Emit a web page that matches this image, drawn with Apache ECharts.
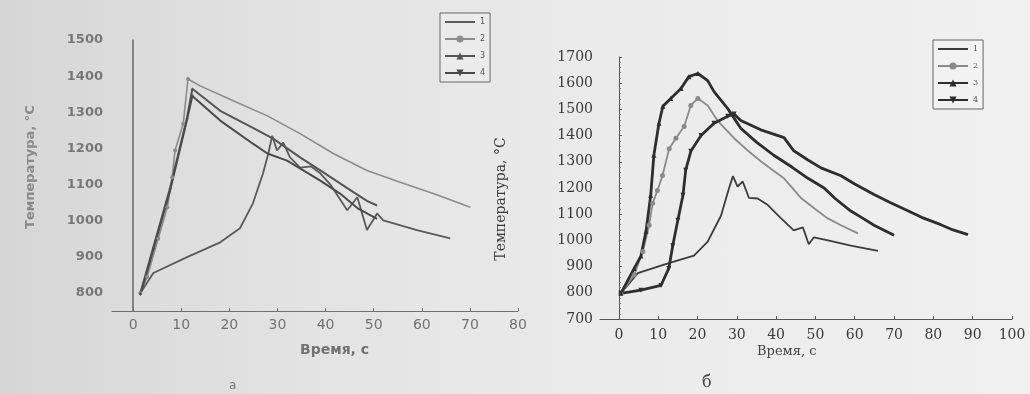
<!DOCTYPE html>
<html>
<head>
<meta charset="utf-8">
<script src="https://cdn.jsdelivr.net/npm/echarts@6/dist/echarts.min.js"></script>
<style>
html,body{margin:0;padding:0;width:1030px;height:394px;overflow:hidden;
background:linear-gradient(90deg,#d6d6d6 0%,#e3e3e3 30%,#ebebeb 60%,#f0f0f0 100%);}
#c{width:1030px;height:394px;}
</style>
</head>
<body>
<div id="c"></div>
<script>
// ---- Chart "а" (left) ----
const aNames = ['1', '2', '3', '4'];
const aXTicks = [0, 10, 20, 30, 40, 50, 60, 70, 80];
const aYTicks = [800, 900, 1000, 1100, 1200, 1300, 1400, 1500];
const aSeries1 = [[1.5,800],[4.2,855],[11.2,899],[18.1,940],[22.2,979],[24.9,1048],[27,1131],[28.1,1186],[28.9,1235],[29.9,1194],[31.2,1216],[32.6,1175],[34.7,1147],[37,1150],[38.9,1131],[41,1100],[44.5,1029],[46.6,1065],[48.6,974],[50.7,1020],[52,1001],[59,974],[65.9,951]];
const aSeries2 = [[1.5,800],[2.9,844],[5.2,950],[7.1,1037],[8.1,1120],[8.7,1194],[10.4,1268],[11.4,1392],[13.9,1373],[20.8,1332],[27.9,1290],[34.7,1241],[41.6,1186],[48.6,1139],[55.5,1106],[62.4,1075],[70.1,1037]];
const aSeries3 = [[1.5,800],[4.2,927],[7.7,1092],[11.2,1285],[12.3,1365],[18.1,1304],[24.9,1257],[29.1,1227],[34.7,1175],[38.9,1139],[44.5,1090],[48.6,1055],[50.7,1042]];
const aSeries4 = [[1.5,795],[4.2,920],[7.7,1085],[11.2,1280],[12.3,1345],[18.1,1277],[24.9,1213],[27.9,1186],[32,1166],[38.9,1111],[43,1075],[46.6,1035],[48.6,1020],[50.7,1005]];

// ---- Chart "б" (right) ----
const bNames = ['1', '2', '3', '4'];
const bXTicks = [0, 10, 20, 30, 40, 50, 60, 70, 80, 90, 100];
const bSeries1 = [[0.5,798],[4.8,875],[12.5,912],[19.1,942],[22.6,995],[26,1095],[28,1198],[29,1245],[30.2,1205],[31.5,1225],[33.1,1162],[35.3,1160],[37.9,1135],[41.2,1085],[44.5,1038],[46.8,1050],[48.3,985],[49.6,1012],[53.2,1000],[59,980],[65.9,960]];
const bSeries2 = [[0.5,798],[3.9,868],[6.1,958],[7.7,1058],[8.6,1142],[9.8,1190],[11.1,1248],[12.8,1350],[14.5,1390],[16.6,1435],[18.3,1515],[20.1,1542],[22.6,1515],[25.2,1455],[29.3,1390],[33,1340],[36.1,1302],[39,1270],[42,1237],[46.3,1162],[50.6,1112],[53,1085],[56.5,1058],[60.8,1027]];
const bSeries3 = [[0.5,798],[3.9,893],[5.6,940],[6.9,1035],[8.1,1172],[8.9,1325],[10.2,1447],[11.2,1512],[13.2,1542],[15.8,1580],[17.8,1625],[20.1,1637],[22.6,1610],[24.2,1568],[27.7,1503],[31,1428],[35,1375],[39.4,1325],[44,1280],[48.1,1237],[52.2,1200],[55,1160],[59,1112],[62,1085],[64.9,1058],[70,1020]];
const bSeries4 = [[0.5,798],[5.6,810],[10.7,828],[12.7,893],[13.7,980],[15,1077],[16.3,1172],[17,1268],[18.3,1340],[20.9,1400],[24.2,1447],[27.7,1474],[29.3,1482],[31,1458],[36.1,1422],[42,1392],[44.5,1342],[48,1308],[51.4,1277],[56.5,1247],[60,1215],[64.9,1175],[69,1145],[73.5,1113],[77,1088],[81.9,1060],[85,1040],[88.8,1022]];

const axisTitleX = 'Время, с';
const axisTitleY = 'Температура, °С';

// markers only on the rising branch (up to the maximum)
function withRiseMarkers(arr) {
  let p = 0;
  arr.forEach((d, i) => { if (d[1] > arr[p][1]) p = i; });
  return arr.map((d, i) => i <= p ? { value: d } : { value: d, symbolSize: 0 });
}

const chart = echarts.init(document.getElementById('c'), null, { renderer: 'canvas' });

const sansA = 'DejaVu Sans';
const serifB = 'DejaVu Serif';
const INV_TRI = 'path://M0,0L10,0L5,9Z';

function lineSeries(name, data, gi, color, width, symbol, size) {
  const hasSym = symbol !== 'none';
  return {
    name: name, type: 'line', xAxisIndex: gi, yAxisIndex: gi,
    data: hasSym ? withRiseMarkers(data) : data,
    symbol: symbol, symbolSize: size, showSymbol: hasSym,
    lineStyle: { color: color, width: width },
    itemStyle: { color: color },
    animation: false, z: 3
  };
}

function legendData(prefix, names) {
  return names.map((n, i) => i === 0 ? { name: prefix + n, itemStyle: { opacity: 0 } } : { name: prefix + n });
}

const option = {
  animation: false,
  backgroundColor: 'transparent',
  grid: [
    { left: 112, top: 40, width: 406, height: 271 },
    { left: 600, top: 57, width: 412, height: 262 }
  ],
  xAxis: [
    { gridIndex: 0, type: 'value', min: -4.4, max: 80,
      axisLine: { lineStyle: { color: '#707070', width: 1 } },
      axisTick: { show: true, length: 3, inside: true, customValues: aXTicks, lineStyle: { color: '#707070' } },
      axisLabel: { customValues: aXTicks, formatter: v => String(v), color: '#727272', fontFamily: sansA, fontSize: 14, margin: 7 },
      splitLine: { show: false } },
    { gridIndex: 1, type: 'value', min: -4.8, max: 100,
      axisLine: { lineStyle: { color: '#555', width: 1 } },
      axisTick: { show: true, length: 3, inside: true, customValues: bXTicks, lineStyle: { color: '#555' } },
      axisLabel: { customValues: bXTicks, formatter: v => String(v), color: '#3a3a3a', fontFamily: serifB, fontSize: 14, margin: 9 },
      splitLine: { show: false } }
  ],
  yAxis: [
    { gridIndex: 0, type: 'value', min: 750, max: 1500,
      axisLine: { show: true, lineStyle: { color: '#666', width: 1.5 } },
      axisTick: { show: false },
      axisLabel: { customValues: aYTicks, formatter: v => String(v), color: '#777', fontFamily: sansA, fontSize: 13, fontWeight: 'bold', margin: 9 },
      splitLine: { show: false } },
    { gridIndex: 1, type: 'value', min: 700, max: 1700, interval: 100,
      axisLine: { show: true, lineStyle: { color: '#555', width: 1 } },
      axisTick: { show: true, inside: true, length: 3, lineStyle: { color: '#555' } },
      minorTick: { show: true, splitNumber: 5, length: 2, lineStyle: { color: '#777' } },
      axisLabel: { formatter: v => String(v), color: '#3a3a3a', fontFamily: serifB, fontSize: 14, margin: 7 },
      splitLine: { show: false } }
  ],
  legend: [
    { data: legendData('а', aNames), orient: 'vertical', left: 440, top: 13,
      itemWidth: 30, itemHeight: 9, itemGap: 9, padding: [5, 5, 5, 4],
      borderColor: '#666', borderWidth: 1, backgroundColor: 'rgba(240,240,240,0.5)',
      formatter: n => n.slice(1),
      textStyle: { fontSize: 8, color: '#555', fontFamily: sansA } },
    { data: legendData('б', bNames), orient: 'vertical', left: 933, top: 40,
      itemWidth: 30, itemHeight: 9, itemGap: 9, padding: [5, 5, 5, 4],
      borderColor: '#666', borderWidth: 1, backgroundColor: 'rgba(245,245,245,0.5)',
      formatter: n => n.slice(1),
      textStyle: { fontSize: 8, color: '#555', fontFamily: serifB } }
  ],
  series: [
    lineSeries('а1', aSeries1, 0, '#5a5a5a', 1.8, 'none', 0),
    lineSeries('а2', aSeries2, 0, '#8c8c8c', 1.6, 'circle', 4),
    lineSeries('а3', aSeries3, 0, '#555555', 2, 'triangle', 3),
    lineSeries('а4', aSeries4, 0, '#4a4a4a', 2, INV_TRI, 3),
    lineSeries('б1', bSeries1, 1, '#3c3c3c', 1.8, 'none', 0),
    lineSeries('б2', bSeries2, 1, '#8a8a8a', 1.8, 'circle', 5),
    lineSeries('б3', bSeries3, 1, '#2e2e2e', 2.8, 'triangle', 5),
    lineSeries('б4', bSeries4, 1, '#2e2e2e', 2.8, INV_TRI, 5)
  ],
  graphic: [
    { type: 'text', left: 300, top: 343, style: { text: axisTitleX, font: 'bold 14px "DejaVu Sans"', fill: '#727272' } },
    { type: 'text', left: 229, top: 380, style: { text: 'а', font: '12px "DejaVu Sans"', fill: '#777' } },
    { type: 'text', x: 31, y: 167, rotation: Math.PI / 2, style: { text: axisTitleY, font: 'bold 13px "DejaVu Sans"', fill: '#8a8a8a', align: 'center', verticalAlign: 'middle' } },
    { type: 'text', left: 757, top: 345, style: { text: axisTitleX, font: '13px "DejaVu Serif"', fill: '#444' } },
    { type: 'text', left: 702, top: 375, style: { text: 'б', font: '16px "DejaVu Serif"', fill: '#444' } },
    { type: 'text', x: 501, y: 199, rotation: Math.PI / 2, style: { text: axisTitleY, font: '14px "DejaVu Serif"', fill: '#3a3a3a', align: 'center', verticalAlign: 'middle' } }
  ]
};
chart.setOption(option);
</script>
</body>
</html>
